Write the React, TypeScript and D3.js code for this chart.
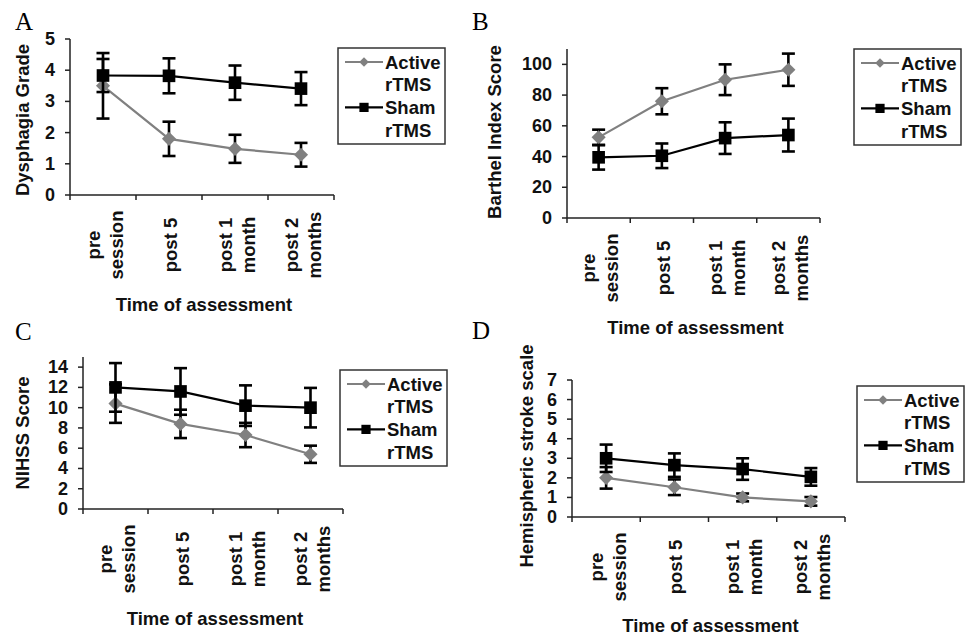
import React, { useEffect, useRef } from 'react';
import * as d3 from 'd3';

const width = 972,
  height = 635;

// shared x categories (line breaks as in the original figure)
const categories = ['pre\nsession', 'post 5', 'post 1\nmonth', 'post 2\nmonths'];
const seriesNames = ['Active', 'Sham'];

// A - Dysphagia grade
const dysphagiaActive = [3.5, 1.8, 1.48, 1.29];
const dysphagiaActiveErr = [1.05, 0.55, 0.45, 0.38];
const dysphagiaSham = [3.83, 3.82, 3.6, 3.41];
const dysphagiaShamErr = [0.53, 0.56, 0.55, 0.53];
const dysphagiaTicks = [0, 1, 2, 3, 4, 5];

// B - Barthel index
const barthelActive = [52.5, 76, 90, 96.5];
const barthelActiveErr = [5, 8.5, 10, 10.5];
const barthelSham = [39.5, 40.5, 52, 54];
const barthelShamErr = [8, 8, 10.3, 10.7];
const barthelTicks = [0, 20, 40, 60, 80, 100];

// C - NIHSS
const nihssActive = [10.4, 8.4, 7.3, 5.4];
const nihssActiveErr = [1.9, 1.4, 1.2, 0.85];
const nihssSham = [12, 11.6, 10.2, 10];
const nihssShamErr = [2.4, 2.3, 2.0, 1.95];
const nihssTicks = [0, 2, 4, 6, 8, 10, 12, 14];

// D - Hemispheric stroke scale
const hssActive = [2.0, 1.52, 1.0, 0.8];
const hssActiveErr = [0.55, 0.4, 0.2, 0.22];
const hssSham = [3.0, 2.65, 2.45, 2.05];
const hssShamErr = [0.7, 0.6, 0.55, 0.45];
const hssTicks = [0, 1, 2, 3, 4, 5, 6, 7];

const ACTIVE = '#808080';
const SHAM = '#000000';
const FONT = '"Liberation Sans", Arial, sans-serif';

const panels = [
  { letter: 'A', lx: 15, ly: 30, x0: 70, x1: 334, yTop: 39, yBot: 195, max: 5, ticks: dysphagiaTicks,
    title: 'Dysphagia Grade', tx: 22, ty: 120, xtY: 311,
    active: dysphagiaActive, activeErr: dysphagiaActiveErr, sham: dysphagiaSham, shamErr: dysphagiaShamErr,
    legend: [338, 48] },
  { letter: 'B', lx: 472, ly: 30, x0: 567, x1: 820, yTop: 49, yBot: 218, max: 110, ticks: barthelTicks,
    title: 'Barthel Index Score', tx: 494, ty: 132, xtY: 334,
    active: barthelActive, activeErr: barthelActiveErr, sham: barthelSham, shamErr: barthelShamErr,
    legend: [854, 49] },
  { letter: 'C', lx: 15, ly: 340, x0: 83, x1: 343, yTop: 357, yBot: 509, max: 15, ticks: nihssTicks,
    title: 'NIHSS Score', tx: 22, ty: 433, xtY: 625,
    active: nihssActive, activeErr: nihssActiveErr, sham: nihssSham, shamErr: nihssShamErr,
    legend: [340, 370] },
  { letter: 'D', lx: 472, ly: 339, x0: 572, x1: 845, yTop: 380, yBot: 517, max: 7, ticks: hssTicks,
    title: 'Hemispheric stroke scale', tx: 526, ty: 456, xtY: 632,
    active: hssActive, activeErr: hssActiveErr, sham: hssSham, shamErr: hssShamErr,
    legend: [857, 386] },
];

// diamond = square turned 45 degrees, like the Excel marker
const markerPath = (shape, size) => d3.symbol().type(d3.symbolSquare).size(size)();
const markerRot = (shape) => (shape === 'diamond' ? ' rotate(45)' : '');

function drawPanel(svg, p) {
  const x = d3.scaleBand().domain(categories).range([p.x0, p.x1]).padding(0);
  const y = d3.scaleLinear().domain([0, p.max]).range([p.yBot, p.yBot - (p.yBot - p.yTop)]);
  const cx = (c) => x(c) + x.bandwidth() / 2;
  const g = svg.append('g');

  // panel letter
  g.append('text')
    .attr('x', p.lx).attr('y', p.ly)
    .style('font-family', '"Liberation Serif", "Times New Roman", serif')
    .style('font-size', '25px')
    .text(p.letter);

  // y axis
  g.append('line')
    .attr('x1', p.x0).attr('x2', p.x0)
    .attr('y1', p.yBot).attr('y2', p.yTop)
    .attr('stroke', '#222').attr('stroke-width', 1.5);
  p.ticks.forEach((t) => {
    g.append('line')
      .attr('x1', p.x0 - 5).attr('x2', p.x0)
      .attr('y1', y(t)).attr('y2', y(t))
      .attr('stroke', '#222').attr('stroke-width', 1.5);
    g.append('text')
      .attr('x', p.x0 - 15).attr('y', y(t))
      .attr('text-anchor', 'end').attr('dominant-baseline', 'central')
      .style('font-family', FONT).style('font-weight', 'bold').style('font-size', '18px')
      .attr('fill', '#111')
      .text(t);
  });

  // x axis
  g.append('line')
    .attr('x1', p.x0).attr('x2', p.x1)
    .attr('y1', p.yBot).attr('y2', p.yBot)
    .attr('stroke', '#222').attr('stroke-width', 1.5);
  const edges = categories.map((c) => x(c)).concat([p.x1]);
  edges.forEach((e) => {
    g.append('line')
      .attr('x1', e).attr('x2', e)
      .attr('y1', p.yBot).attr('y2', p.yBot + 5)
      .attr('stroke', '#222').attr('stroke-width', 1.5);
  });
  categories.forEach((c) => {
    const lines = c.split('\n');
    lines.forEach((ln, i) => {
      const lx = cx(c) + 1.5 + (i - (lines.length - 1) / 2) * 23;
      const ly = p.yBot + 50;
      g.append('text')
        .attr('transform', 'translate(' + lx + ',' + ly + ') rotate(-90)')
        .attr('text-anchor', 'middle').attr('dominant-baseline', 'central')
        .style('font-family', FONT).style('font-weight', 'bold').style('font-size', '18.5px')
        .attr('fill', '#111')
        .text(ln);
    });
  });

  // axis titles
  g.append('text')
    .attr('transform', 'translate(' + p.tx + ',' + p.ty + ') rotate(-90)')
    .attr('text-anchor', 'middle').attr('dominant-baseline', 'central')
    .style('font-family', FONT).style('font-weight', 'bold').style('font-size', '18.5px')
    .attr('fill', '#111')
    .text(p.title);
  g.append('text')
    .attr('x', (p.x0 + p.x1) / 2 + 2).attr('y', p.xtY)
    .attr('text-anchor', 'middle')
    .style('font-family', FONT).style('font-weight', 'bold').style('font-size', '18.5px')
    .attr('fill', '#111')
    .text('Time of assessment');

  const line = d3.line().x((d) => cx(d.c)).y((d) => y(d.v));
  const series = [
    { vals: p.active, err: p.activeErr, color: ACTIVE, shape: 'diamond', size: 100 },
    { vals: p.sham, err: p.shamErr, color: SHAM, shape: 'square', size: 160 },
  ];
  series.forEach((s) => {
    const pts = categories.map((c, i) => ({ c, v: s.vals[i], e: s.err[i] }));
    g.append('path')
      .datum(pts)
      .attr('d', line)
      .attr('fill', 'none')
      .attr('stroke', s.color)
      .attr('stroke-width', 2.2);
    pts.forEach((d) => {
      const px = cx(d.c);
      g.append('line')
        .attr('x1', px).attr('x2', px)
        .attr('y1', y(d.v + d.e)).attr('y2', y(d.v - d.e))
        .attr('stroke', '#000').attr('stroke-width', 2.6);
      [d.v + d.e, d.v - d.e].forEach((v) => {
        g.append('line')
          .attr('x1', px - 6.5).attr('x2', px + 6.5)
          .attr('y1', y(v)).attr('y2', y(v))
          .attr('stroke', '#000').attr('stroke-width', 2.6);
      });
    });
    g.selectAll(null)
      .data(pts)
      .enter()
      .append('path')
      .attr('d', markerPath(s.shape, s.size))
      .attr('transform', (d) => 'translate(' + cx(d.c) + ',' + y(d.v) + ')' + markerRot(s.shape))
      .attr('fill', s.color);
  });

  // legend
  const [bx, by] = p.legend;
  const lg = g.append('g').attr('transform', 'translate(' + bx + ',' + by + ')');
  lg.append('rect')
    .attr('width', 107).attr('height', 96)
    .attr('fill', 'white').attr('stroke', '#333').attr('stroke-width', 1.5);
  const rows = 22.7;
  seriesNames.forEach((name, i) => {
    const ry = 14 + i * 2 * rows;
    const shape = i === 0 ? 'diamond' : 'square';
    lg.append('line')
      .attr('x1', 7).attr('x2', 45).attr('y1', ry).attr('y2', ry)
      .attr('stroke', i === 0 ? ACTIVE : SHAM).attr('stroke-width', 2.2);
    lg.append('path')
      .attr('d', markerPath(shape, i === 0 ? 45 : 85))
      .attr('transform', 'translate(26,' + ry + ')' + markerRot(shape))
      .attr('fill', i === 0 ? ACTIVE : SHAM);
    [name, 'rTMS'].forEach((t, j) => {
      lg.append('text')
        .attr('x', 47).attr('y', ry + j * rows)
        .attr('dominant-baseline', 'central')
        .style('font-family', FONT).style('font-weight', 'bold').style('font-size', '18.5px')
        .attr('fill', '#111')
        .text(t);
    });
  });
}

export default function App() {
  const ref = useRef(null);

  useEffect(() => {
    const svg = d3.select(ref.current);
    svg.selectAll('*').remove();
    panels.forEach((p) => drawPanel(svg, p));
  }, []);

  return (
    <svg
      ref={ref}
      width={width}
      height={height}
      style={{ position: 'absolute', left: 0, top: 0, background: 'white' }}
    />
  );
}
